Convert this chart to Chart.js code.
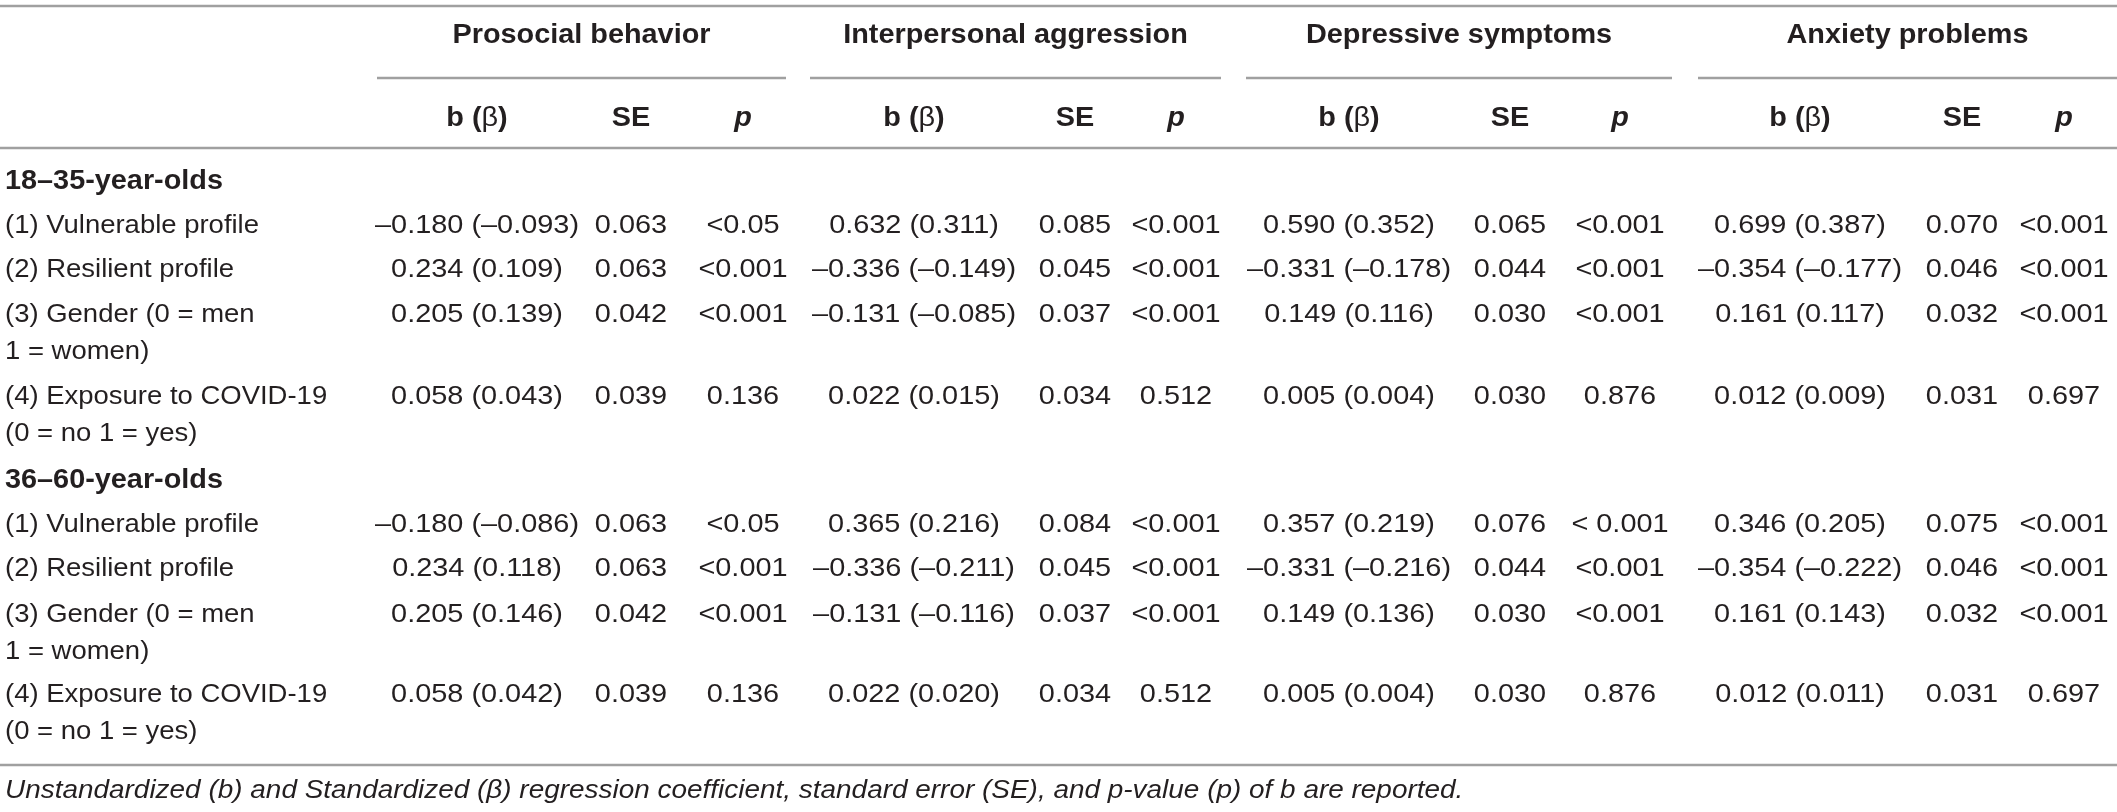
<!DOCTYPE html>
<html>
<head>
<meta charset="utf-8">
<script src="https://cdn.jsdelivr.net/npm/chart.js@4.4.1/dist/chart.umd.min.js"></script>
<style>
html,body{margin:0;padding:0;background:#fff;}
#wrap{width:2117px;height:812px;position:relative;}
</style>
</head>
<body>
<div id="wrap"><canvas id="c" width="2117" height="812"></canvas></div>
<script>
// ---------- DATA ----------
const outcomes = ["Prosocial behavior", "Interpersonal aggression", "Depressive symptoms", "Anxiety problems"];
const statHeaders = ["b (β)", "SE", "p"];
const ageGroups = ["18–35-year-olds", "36–60-year-olds"];
const predictors = [
  ["(1) Vulnerable profile"],
  ["(2) Resilient profile"],
  ["(3) Gender (0 = men", "1 = women)"],
  ["(4) Exposure to COVID-19", "(0 = no 1 = yes)"]
];
// [outcome][predictor]
const bYoung    = [[-0.180, 0.234, 0.205, 0.058], [0.632, -0.336, -0.131, 0.022], [0.590, -0.331, 0.149, 0.005], [0.699, -0.354, 0.161, 0.012]];
const betaYoung = [[-0.093, 0.109, 0.139, 0.043], [0.311, -0.149, -0.085, 0.015], [0.352, -0.178, 0.116, 0.004], [0.387, -0.177, 0.117, 0.009]];
const seYoung   = [[0.063, 0.063, 0.042, 0.039], [0.085, 0.045, 0.037, 0.034], [0.065, 0.044, 0.030, 0.030], [0.070, 0.046, 0.032, 0.031]];
const pYoung    = [["<0.05", "<0.001", "<0.001", "0.136"], ["<0.001", "<0.001", "<0.001", "0.512"], ["<0.001", "<0.001", "<0.001", "0.876"], ["<0.001", "<0.001", "<0.001", "0.697"]];
const bOld      = [[-0.180, 0.234, 0.205, 0.058], [0.365, -0.336, -0.131, 0.022], [0.357, -0.331, 0.149, 0.005], [0.346, -0.354, 0.161, 0.012]];
const betaOld   = [[-0.086, 0.118, 0.146, 0.042], [0.216, -0.211, -0.116, 0.020], [0.219, -0.216, 0.136, 0.004], [0.205, -0.222, 0.143, 0.011]];
const seOld     = [[0.063, 0.063, 0.042, 0.039], [0.084, 0.045, 0.037, 0.034], [0.076, 0.044, 0.030, 0.030], [0.075, 0.046, 0.032, 0.031]];
const pOld      = [["<0.05", "<0.001", "<0.001", "0.136"], ["<0.001", "<0.001", "<0.001", "0.512"], ["< 0.001", "<0.001", "<0.001", "0.876"], ["<0.001", "<0.001", "<0.001", "0.697"]];
const footnote = "Unstandardized (b) and Standardized (β) regression coefficient, standard error (SE), and p-value (p) of b are reported.";

// ---------- LAYOUT (positions in axis units) ----------
const W = 2117, H = 812;
const colCenters = [[477, 631, 743], [914, 1075, 1176], [1349, 1510, 1620], [1800, 1962, 2064]];
const groupSpans = [[377, 786], [810, 1221], [1246, 1672], [1698, 2117]];
const labelX = 5;
const yTopLine = 6, yGroupHead = 36, yGroupLine = 78, ySubHead = 119, yHeadLine = 148;
const ySection = [182, 481];
const yRows = [[226, 270, 315, 397], [525, 569, 615, 695]];
const lineGap = 37;
const yBottomLine = 765, yFoot = 791;

const TEXT = "#231f20", RULE = "#a0a0a0";
const FAMILY = "'Liberation Sans', Arial, Helvetica, sans-serif";
const FS_BODY = 26, FS_BOLD = 27, FS_FOOT = 26;

function fmt(v) { return (v < 0 ? "–" : "") + Math.abs(v).toFixed(3); }
const dataSets = [
  {b: bYoung, beta: betaYoung, se: seYoung, p: pYoung},
  {b: bOld, beta: betaOld, se: seOld, p: pOld}
];

// rule lines as datasets
const rules = [];
rules.push([[0, W], yTopLine]);
groupSpans.forEach(s => rules.push([s, yGroupLine]));
rules.push([[0, W], yHeadLine]);
rules.push([[0, W], yBottomLine]);
const ruleDatasets = rules.map(r => ({
  data: [{x: r[0][0], y: r[1]}, {x: r[0][1], y: r[1]}],
  showLine: true, borderColor: RULE, borderWidth: 2.5, pointRadius: 0, fill: false
}));

const measureCtx = document.createElement("canvas").getContext("2d");
function textW(text, font) { measureCtx.font = font; return measureCtx.measureText(text).width; }
function fitScale(text, font, target) { return target / textW(text, font); }

const tablePlugin = {
  id: "tableText",
  afterDatasetsDraw(chart) {
    const ctx = chart.ctx, xs = chart.scales.x, ys = chart.scales.y;
    const fReg = `400 ${FS_BODY}px ${FAMILY}`;
    const fBold = `700 ${FS_BOLD}px ${FAMILY}`;
    const fBoldIt = `italic 700 ${FS_BOLD}px ${FAMILY}`;
    const fSym = `400 ${FS_BOLD}px ${FAMILY}`;
    const fIt = `italic 400 ${FS_FOOT}px ${FAMILY}`;
    const sxLab = fitScale("(1) Vulnerable profile", fReg, 254);
    const sxNum = fitScale("–0.180 (–0.093)", fReg, 204);
    const sxBold = fitScale("Prosocial behavior", fBold, 258);
    const sxIt = fitScale("Unstandardized (b) and Standardized (β) regression coefficient, standard error (SE), and", fIt, 1095);
    // segments: [[text, font], ...] drawn as one run
    function run(segs, x, y, sx, align) {
      const total = segs.reduce((s, g) => s + textW(g[0], g[1]), 0);
      ctx.save();
      ctx.fillStyle = TEXT;
      ctx.textBaseline = "middle";
      ctx.textAlign = "left";
      ctx.translate(xs.getPixelForValue(x), ys.getPixelForValue(y));
      ctx.scale(sx, 1);
      let cx = align === "left" ? 0 : -total / 2;
      segs.forEach(g => { ctx.font = g[1]; ctx.fillText(g[0], cx, 0); cx += textW(g[0], g[1]); });
      ctx.restore();
    }
    function txt(s, x, y, font, sx, align) { run([[s, font]], x, y, sx, align); }
    outcomes.forEach((o, i) => {
      const c = (groupSpans[i][0] + groupSpans[i][1]) / 2;
      txt(o, c, yGroupHead, fBold, sxBold);
      statHeaders.forEach((h, j) => {
        if (h.indexOf("β") >= 0) {
          const parts = h.split("β");
          run([[parts[0], fBold], ["β", fSym], [parts[1], fBold]], colCenters[i][j], ySubHead, sxBold);
        } else {
          txt(h, colCenters[i][j], ySubHead, j === 2 ? fBoldIt : fBold, sxBold);
        }
      });
    });
    ageGroups.forEach((g, a) => {
      txt(g, labelX, ySection[a], fBold, sxBold, "left");
      const d = dataSets[a];
      predictors.forEach((lines, r) => {
        const y = yRows[a][r];
        lines.forEach((ln, k) => txt(ln, labelX, y + k * lineGap, fReg, sxLab, "left"));
        outcomes.forEach((o, i) => {
          txt(fmt(d.b[i][r]) + " (" + fmt(d.beta[i][r]) + ")", colCenters[i][0], y, fReg, sxNum);
          txt(d.se[i][r].toFixed(3), colCenters[i][1], y, fReg, sxNum);
          txt(d.p[i][r], colCenters[i][2], y, fReg, sxNum);
        });
      });
    });
    txt(footnote, labelX, yFoot, fIt, sxIt, "left");
  }
};

new Chart(document.getElementById("c"), {
  type: "scatter",
  data: {datasets: ruleDatasets},
  options: {
    responsive: false,
    animation: false,
    devicePixelRatio: 1,
    layout: {padding: 0},
    plugins: {legend: {display: false}, tooltip: {enabled: false}},
    scales: {
      x: {type: "linear", min: 0, max: W, display: false},
      y: {type: "linear", min: 0, max: H, reverse: true, display: false}
    }
  },
  plugins: [tablePlugin]
});
</script>
</body>
</html>
